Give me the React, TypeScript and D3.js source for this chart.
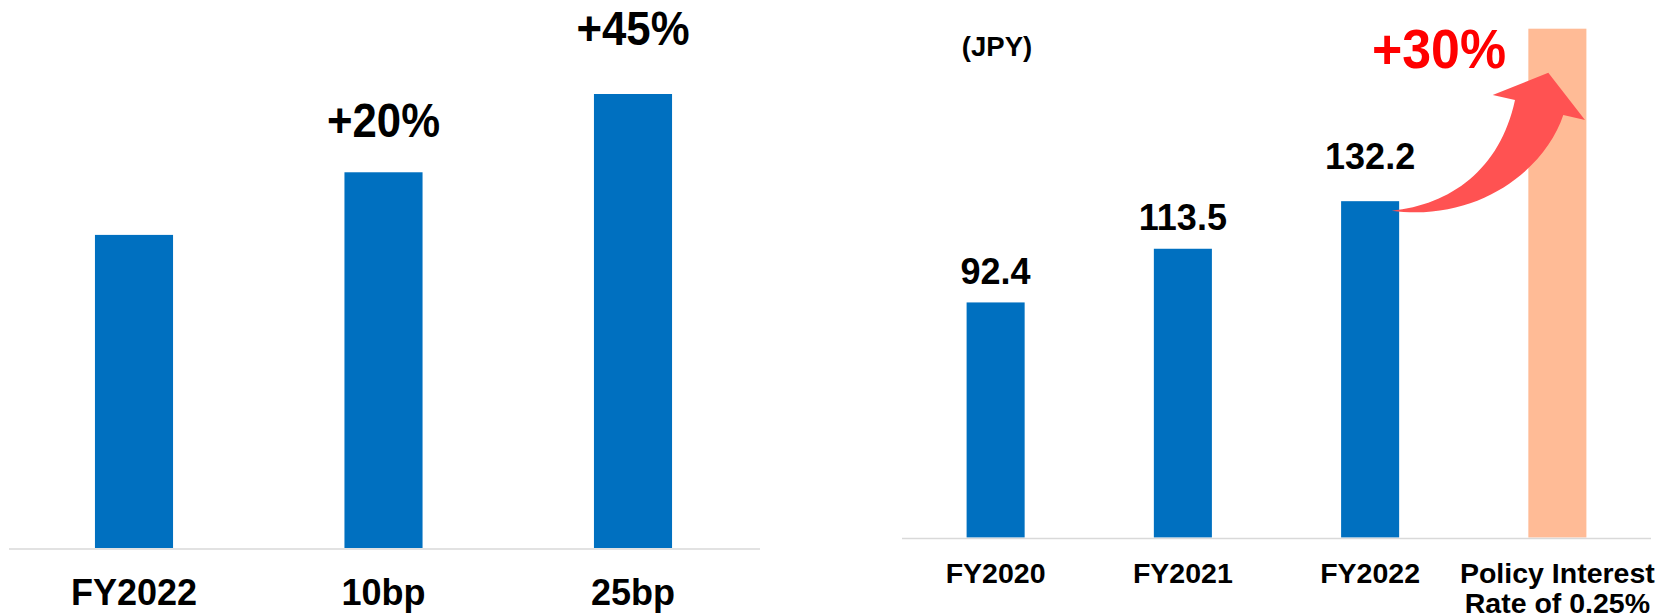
import React from "react";
import * as d3 from "d3";

// ---- Data ----
const leftCategories = ["FY2022", "10bp", "25bp"];
const leftValues = [100, 120, 145];
const leftLabels = ["", "+20%", "+45%"];

const rightCategories = ["FY2020", "FY2021", "FY2022", "Policy Interest|Rate of 0.25%"];
const rightValues = [92.4, 113.5, 132.2, 200];
const rightLabels = ["92.4", "113.5", "132.2", ""];
const unitLabel = "(JPY)";
const growthLabel = "+30%";

// ---- Styles ----
const BLUE = "#0070C0";
const PEACH = "#FFBB96";
const ARROW = "#FF5252";
const RED = "#FF0000";
const AXIS = "#D9D9D9";
const FONT = "'Liberation Sans', Arial, Helvetica, sans-serif";

export default function App() {
  const W = 1671;
  const H = 616;

  // Left chart scales
  const xL = d3
    .scaleBand<string>()
    .domain(leftCategories)
    .range([9.25, 757.75])
    .paddingInner(0.687)
    .paddingOuter(0.3435);
  const yL = d3.scaleLinear().domain([0, 145]).range([548, 94]);
  const leftGap = [0, 35.5, 49];
  const leftTextLen = [0, 113, 113];

  // Right chart scales
  const xR = d3
    .scaleBand<string>()
    .domain(rightCategories)
    .range([902, 1651])
    .paddingInner(0.69)
    .paddingOuter(0.345);
  const yR = d3.scaleLinear().domain([0, 200]).range([537.5, 28.7]);
  const rightGap = [18, 19, 32, 0];

  const arrowPath =
    "M1391.7,210.7 C1450,205 1500,170 1515,100 L1492.7,95 L1548.3,72.7 L1585,120 L1563.3,115 C1545,170 1478,222 1391.7,210.7 Z";

  return (
    <svg
      width={W}
      height={H}
      viewBox={`0 0 ${W} ${H}`}
      style={{ position: "absolute", left: 0, top: 0, background: "#fff" }}
      fontFamily={FONT}
    >
      <rect x={0} y={0} width={W} height={H} fill="#fff" />

      {/* Left chart */}
      {leftCategories.map((c, i) => {
        const x = xL(c)!;
        const bw = xL.bandwidth();
        const y = yL(leftValues[i]);
        return (
          <g key={c}>
            <rect x={x} y={y} width={bw} height={yL(0) - y} fill={BLUE} />
            {leftLabels[i] && (
              <text
                x={x + bw / 2}
                y={y - leftGap[i]}
                textAnchor="middle"
                fontSize={48}
                fontWeight="bold"
                fill="#000"
                textLength={leftTextLen[i]}
                lengthAdjust="spacingAndGlyphs"
              >
                {leftLabels[i]}
              </text>
            )}
            <text
              x={x + bw / 2}
              y={605}
              textAnchor="middle"
              fontSize={36}
              fontWeight="bold"
              fill="#000"
            >
              {c}
            </text>
          </g>
        );
      })}
      <line x1={9} x2={760} y1={549} y2={549} stroke={AXIS} strokeWidth={1.6} />

      {/* Right chart */}
      <text
        x={997}
        y={56}
        textAnchor="middle"
        fontSize={27.5}
        fontWeight="bold"
        fill="#000"
      >
        {unitLabel}
      </text>
      {rightCategories.map((c, i) => {
        const x = xR(c)!;
        const bw = xR.bandwidth();
        const y = yR(rightValues[i]);
        const isLast = i === rightCategories.length - 1;
        const lines = c.split("|");
        return (
          <g key={c}>
            <rect
              x={x}
              y={y}
              width={bw}
              height={yR(0) - y}
              fill={isLast ? PEACH : BLUE}
            />
            {rightLabels[i] && (
              <text
                x={x + bw / 2}
                y={y - rightGap[i]}
                textAnchor="middle"
                fontSize={36}
                fontWeight="bold"
                fill="#000"
              >
                {rightLabels[i]}
              </text>
            )}
            {lines.map((ln, j) => (
              <text
                key={j}
                x={x + bw / 2}
                y={583 + j * 29.5}
                textAnchor="middle"
                fontSize={28.5}
                fontWeight="bold"
                fill="#000"
              >
                {ln}
              </text>
            ))}
          </g>
        );
      })}
      <line x1={902} x2={1651} y1={538.5} y2={538.5} stroke={AXIS} strokeWidth={1.6} />

      <path d={arrowPath} fill={ARROW} />
      <text
        x={1439}
        y={68}
        textAnchor="middle"
        fontSize={55}
        fontWeight="bold"
        fill={RED}
        textLength={134}
        lengthAdjust="spacingAndGlyphs"
      >
        {growthLabel}
      </text>
    </svg>
  );
}
